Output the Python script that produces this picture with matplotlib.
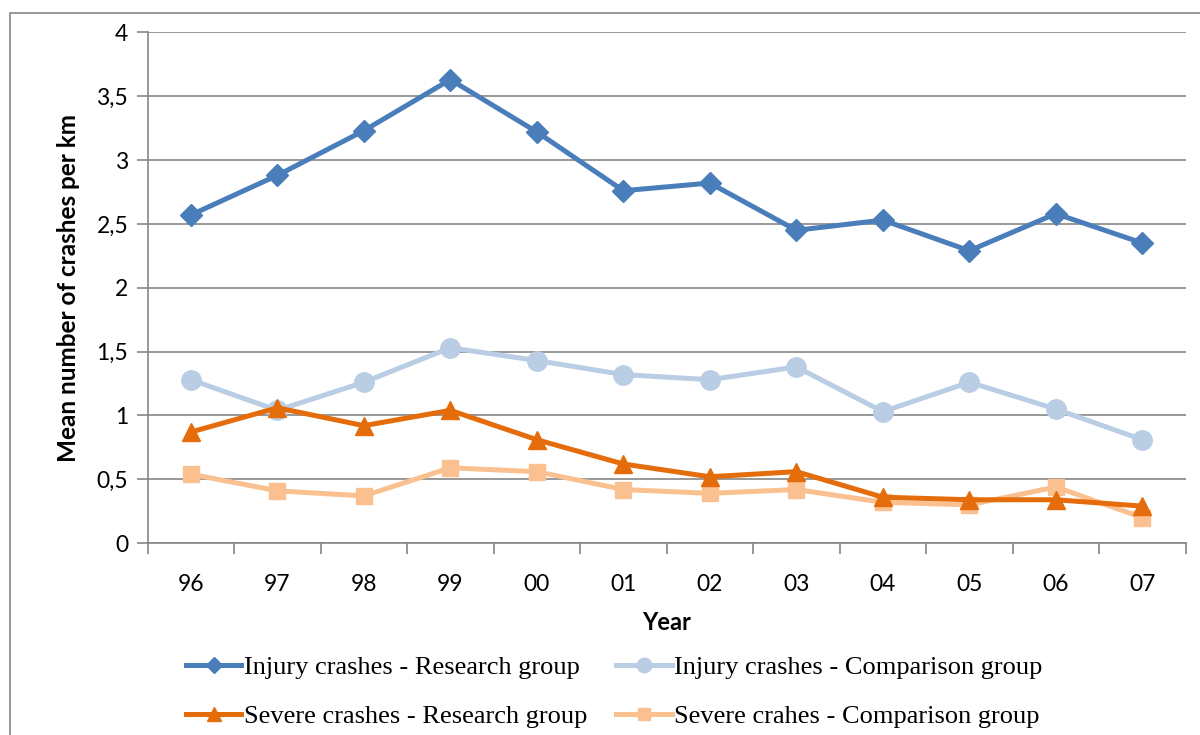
import matplotlib.pyplot as plt
from matplotlib.patches import Rectangle
import numpy as np

years = ["96", "97", "98", "99", "00", "01", "02", "03", "04", "05", "06", "07"]
injury_research = [2.57, 2.88, 3.23, 3.63, 3.22, 2.76, 2.82, 2.45, 2.53, 2.29, 2.58, 2.35]
injury_comparison = [1.28, 1.04, 1.26, 1.53, 1.43, 1.32, 1.28, 1.38, 1.03, 1.26, 1.05, 0.81]
severe_research = [0.87, 1.06, 0.92, 1.04, 0.81, 0.62, 0.52, 0.56, 0.36, 0.34, 0.34, 0.29]
severe_comparison = [0.54, 0.41, 0.37, 0.59, 0.56, 0.42, 0.39, 0.42, 0.32, 0.30, 0.44, 0.20]

x = np.arange(len(years))
grey = "#868686"

fig = plt.figure(figsize=(12, 7.35), dpi=100)
fig.patches.append(Rectangle((10 / 1200, -0.01), 1.0, 1 - 13 / 735 + 0.01,
                             transform=fig.transFigure, fill=False,
                             edgecolor=grey, linewidth=1.2))
ax = fig.add_axes([0.123, 0.261, 0.865, 0.695])

l1, = ax.plot(x, injury_research, color="#4A7EBB", lw=3.6, marker="D", ms=11,
              label="Injury crashes - Research group", zorder=5)
l2, = ax.plot(x, injury_comparison, color="#B9CDE5", lw=3.6, marker="o", ms=14,
              label="Injury crashes - Comparison group", zorder=3)
l3, = ax.plot(x, severe_research, color="#E46C0A", lw=3.6, marker="^", ms=13,
              label="Severe crashes - Research group", zorder=4)
l4, = ax.plot(x, severe_comparison, color="#FAC090", lw=3.6, marker="s", ms=12,
              label="Severe crahes - Comparison group", zorder=3)

ax.set_xlim(-0.5, len(years) - 0.5)
ax.set_ylim(0, 4)
ax.set_yticks(np.arange(0, 4.01, 0.5))
ax.set_yticklabels(["0", "0,5", "1", "1,5", "2", "2,5", "3", "3,5", "4"])
ax.set_xticks(x)
ax.set_xticklabels(years)
ax.set_xticks(np.arange(-0.5, len(years), 1), minor=True)
ax.tick_params(axis="x", which="major", length=0, pad=22)
ax.tick_params(axis="x", which="minor", length=8, color=grey, width=1.2)
ax.tick_params(axis="y", length=8, color=grey, width=1.2, pad=6)
for lab in ax.get_xticklabels() + ax.get_yticklabels():
    lab.set_fontfamily("Lato")
    lab.set_fontsize(16.5)

ax.grid(axis="y", color=grey, lw=1.2)
ax.set_axisbelow(True)
for s in ["top", "right"]:
    ax.spines[s].set_visible(False)
ax.spines["left"].set_color(grey)
ax.spines["bottom"].set_color(grey)
ax.spines["left"].set_linewidth(1.2)
ax.spines["bottom"].set_linewidth(1.2)

ax.set_xlabel("Year", fontfamily="Lato", fontsize=17, fontweight="bold", labelpad=12)
ax.set_ylabel("Mean number of crashes per km", fontfamily="Lato", fontsize=17.5,
              fontweight="bold", labelpad=12)

# legend fills column-wise, so order handles to get the reference rows
order = [l1, l3, l2, l4]
ax.legend(order, [l.get_label() for l in order],
          loc="upper left", bbox_to_anchor=(0.014, -0.174), ncol=2, frameon=False,
          prop={"family": "Liberation Serif", "size": 19}, handlelength=2.1,
          handletextpad=0.1, columnspacing=1.1, labelspacing=0.95, markerscale=0.75)

fig.savefig("out.png", dpi=100)
